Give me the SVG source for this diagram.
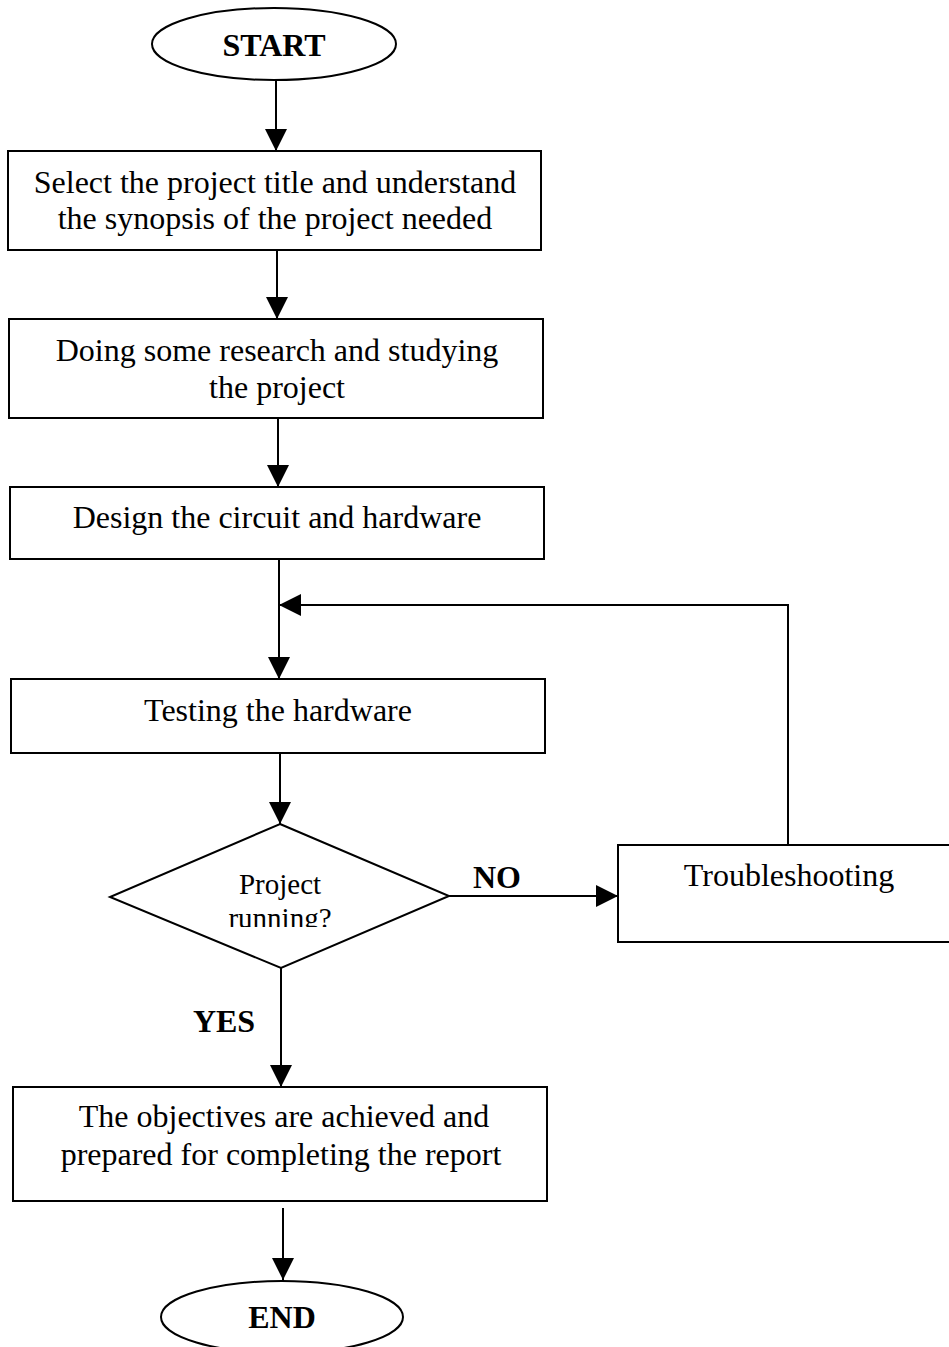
<svg xmlns="http://www.w3.org/2000/svg" width="949" height="1347" viewBox="0 0 949 1347">
<style>
.s{fill:#fff;stroke:#000;stroke-width:2}
.t{font-family:"Liberation Serif","Times New Roman",serif;font-size:32px;fill:#000;text-anchor:middle}
.b{font-weight:bold}
.d{font-size:29px}
.c{fill:none;stroke:#000;stroke-width:2}
</style>
<defs>
<marker id="ah" markerUnits="userSpaceOnUse" markerWidth="22" markerHeight="24" viewBox="0 0 22 24" refX="22" refY="12" orient="auto">
<path d="M0,1 L22,12 L0,23 Z" fill="#000"/>
</marker>
<clipPath id="dclip"><rect x="100" y="820" width="360" height="107"/></clipPath>
</defs>
<rect width="949" height="1347" fill="#fff"/>
<g id="connectors">
<line class="c" x1="276" y1="80" x2="276" y2="151" marker-end="url(#ah)"/>
<line class="c" x1="277" y1="250" x2="277" y2="319" marker-end="url(#ah)"/>
<line class="c" x1="278" y1="418" x2="278" y2="487" marker-end="url(#ah)"/>
<line class="c" x1="279" y1="559" x2="279" y2="679" marker-end="url(#ah)"/>
<polyline class="c" points="788,845 788,605 279,605" marker-end="url(#ah)"/>
<line class="c" x1="280" y1="753" x2="280" y2="824" marker-end="url(#ah)"/>
<line class="c" x1="449" y1="896" x2="618" y2="896" marker-end="url(#ah)"/>
<line class="c" x1="281" y1="968" x2="281" y2="1087" marker-end="url(#ah)"/>
<line class="c" x1="283" y1="1208" x2="283" y2="1280" marker-end="url(#ah)"/>
<text class="t b" x="497" y="888">NO</text>
<text class="t b" x="224" y="1032">YES</text>
</g>
<g id="start">
<ellipse class="s" cx="274" cy="44" rx="122" ry="36"/>
<text class="t b" x="274" y="56">START</text>
</g>
<g id="select">
<rect class="s" x="8" y="151" width="533" height="99"/>
<text class="t" x="275" y="193">Select the project title and understand</text>
<text class="t" x="275" y="229">the synopsis of the project needed</text>
</g>
<g id="research">
<rect class="s" x="9" y="319" width="534" height="99"/>
<text class="t" x="277" y="361">Doing some research and studying</text>
<text class="t" x="277" y="398">the project</text>
</g>
<g id="design">
<rect class="s" x="10" y="487" width="534" height="72"/>
<text class="t" x="277" y="528">Design the circuit and hardware</text>
</g>
<g id="testing">
<rect class="s" x="11" y="679" width="534" height="74"/>
<text class="t" x="278" y="721">Testing the hardware</text>
</g>
<g id="decision">
<polygon class="s" points="280,824 449,896 281,968 110,897"/>
<g clip-path="url(#dclip)">
<text class="t d" x="280" y="894">Project</text>
<text class="t d" x="280" y="928">running?</text>
</g>
</g>
<g id="troubleshooting">
<rect class="s" x="618" y="845" width="340" height="97"/>
<text class="t" x="789" y="886">Troubleshooting</text>
</g>
<g id="objectives">
<rect class="s" x="13" y="1087" width="534" height="114"/>
<text class="t" x="284" y="1127">The objectives are achieved and</text>
<text class="t" x="281" y="1165">prepared for completing the report</text>
</g>
<g id="end">
<ellipse class="s" cx="282" cy="1317" rx="121" ry="36"/>
<text class="t b" x="282" y="1328">END</text>
</g>
</svg>
